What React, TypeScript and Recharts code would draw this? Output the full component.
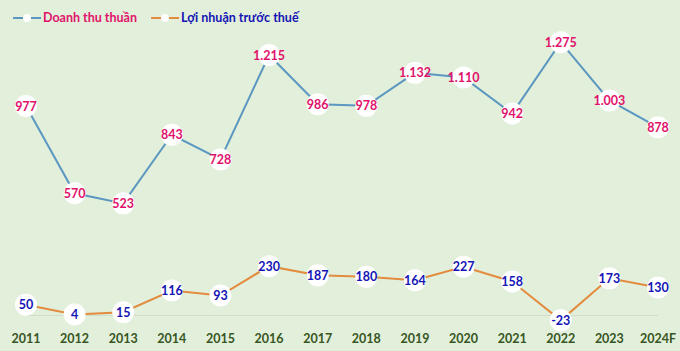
import { LineChart, Line, XAxis, YAxis, ReferenceLine, LabelList, Legend } from 'recharts';

const years = ['2011', '2012', '2013', '2014', '2015', '2016', '2017', '2018', '2019', '2020', '2021', '2022', '2023', '2024F'];
const doanhThu = [977, 570, 523, 843, 728, 1215, 986, 978, 1132, 1110, 942, 1275, 1003, 878];
const loiNhuan = [50, 4, 15, 116, 93, 230, 187, 180, 164, 227, 158, -23, 173, 130];

const data = years.map((y, i) => ({ year: y, dt: doanhThu[i], ln: loiNhuan[i] }));

const FONT = 'Lato, "Open Sans", sans-serif';
const BLUE_LINE = '#5b97c0';
const ORANGE_LINE = '#e38b3f';
const PINK = '#e0126a';
const NAVY = '#1414b4';

const fmt = (v: number) => v.toLocaleString('de-DE');

const makeLabel = (color: string) => (props: any) => {
  const { x, y, value } = props;
  return (
    <text x={x} y={y} dy="0.36em" textAnchor="middle" fill={color} fontSize={12.5} fontWeight="bold" fontFamily={FONT}>
      {fmt(value)}
    </text>
  );
};

function LegendBox() {
  const items = [
    { name: 'Doanh thu thuần', line: BLUE_LINE, text: PINK },
    { name: 'Lợi nhuận trước thuế', line: ORANGE_LINE, text: NAVY },
  ];
  return (
    <div style={{ display: 'flex', gap: 14, fontFamily: FONT, fontWeight: 'bold', fontSize: 12.5 }}>
      {items.map((it) => (
        <div key={it.name} style={{ display: 'flex', alignItems: 'center' }}>
          <svg width={28} height={10} style={{ marginRight: 2 }}>
            <line x1={0} y1={5} x2={28} y2={5} stroke={it.line} strokeWidth={2} />
            <circle cx={14} cy={5} r={4} fill="#fff" />
          </svg>
          <span style={{ color: it.text }}>{it.name}</span>
        </div>
      ))}
    </div>
  );
}

export default function App() {
  return (
    <div style={{ position: 'fixed', left: 0, top: 0, width: 680, height: 351, background: '#e2efda' }}>
      <LineChart width={680} height={351} data={data} margin={{ top: 9, right: 22, bottom: 0, left: 26 }}>
        <XAxis
          dataKey="year"
          height={27}
          axisLine={false}
          tickLine={false}
          interval={0}
          tickMargin={4}
          tick={{ fill: '#375623', fontSize: 12.5, fontWeight: 'bold', fontFamily: FONT }}
        />
        <YAxis hide domain={[-40, 1360]} />
        <ReferenceLine y={0} stroke="#cfdcc6" strokeWidth={1} />
        <Legend
          verticalAlign="top"
          align="left"
          wrapperStyle={{ top: 10, left: 13, width: 'auto' }}
          content={() => <LegendBox />}
        />
        <Line
          dataKey="dt"
          stroke={BLUE_LINE}
          strokeWidth={2}
          dot={{ r: 11, fill: '#fff', stroke: 'none' }}
          activeDot={false}
          isAnimationActive={false}
        >
          <LabelList dataKey="dt" content={makeLabel(PINK)} />
        </Line>
        <Line
          dataKey="ln"
          stroke={ORANGE_LINE}
          strokeWidth={2}
          dot={{ r: 11, fill: '#fff', stroke: 'none' }}
          activeDot={false}
          isAnimationActive={false}
        >
          <LabelList dataKey="ln" content={makeLabel(NAVY)} />
        </Line>
      </LineChart>
    </div>
  );
}
